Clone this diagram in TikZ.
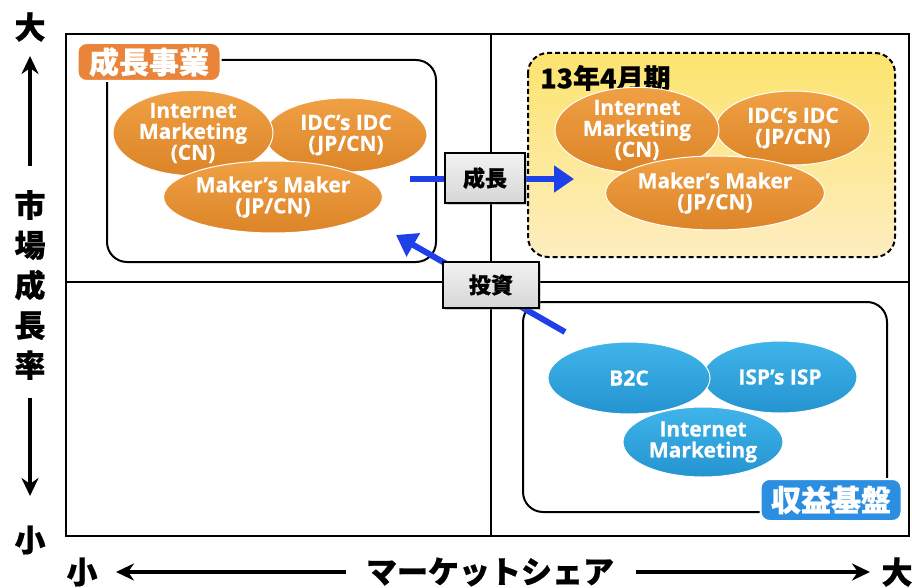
\documentclass[tikz,border=0pt]{standalone}
\usepackage{fontspec}
\setmainfont{Open Sans}
\newfontfamily\jp{Noto Sans CJK JP}[BoldFeatures={FakeBold=0.6}]
\newfontfamily\lat{Open Sans}[BoldFeatures={FakeBold=0.5}]
\usetikzlibrary{shapes.geometric,arrows.meta,shadows}
\definecolor{orgA}{HTML}{F0A044}
\definecolor{orgB}{HTML}{DC8428}
\definecolor{bluA}{HTML}{40B4EA}
\definecolor{bluB}{HTML}{2494D0}
\definecolor{arrB}{HTML}{1E40E8}
\definecolor{yelA}{HTML}{FCE46E}
\definecolor{yelB}{HTML}{FDEDC0}
\definecolor{lblO}{HTML}{E9843A}
\definecolor{lblB}{HTML}{2C8EE0}
\definecolor{grayA}{HTML}{F2F2F2}
\definecolor{grayB}{HTML}{D6D6D6}
\tikzset{
  ell/.style={ellipse, draw=white, line width=1pt, text=white, align=center, inner sep=0pt,
    font=\lat\bfseries\fontsize{21}{21}\selectfont},
  oell/.style={ell, top color=orgA, bottom color=orgB},
  bell/.style={ell, top color=bluA, bottom color=bluB},
  zone/.style={draw=black, line width=2pt, rounded corners=20pt},
  tag/.style={rounded corners=9pt, draw=white, line width=2pt, text=white, inner sep=3pt,
    font=\jp\bfseries\fontsize{30}{30}\selectfont},
  gbox/.style={draw=black, line width=1.5pt, top color=grayA, bottom color=grayB,
    drop shadow={opacity=0.35, shadow xshift=2pt, shadow yshift=-2pt},
    font=\jp\bfseries\fontsize{22}{22}\selectfont, inner sep=0pt},
  axis/.style={font=\jp\bfseries\fontsize{31}{31}\selectfont, inner sep=0pt},
  axarr/.style={line width=4pt, -{Stealth[length=18pt,width=17pt]}},
  barr/.style={arrB, line width=6pt, -{Triangle[length=20pt,width=26pt]}},
}
\begin{document}
\begin{tikzpicture}[x=1pt,y=-1pt]
\useasboundingbox (0,0) rectangle (912,588);
\fill[white] (0,0) rectangle (912,588);
% main frame
\draw[line width=2pt] (66,34) rectangle (909,536);
\draw[line width=2pt] (491,34) -- (491,536);
\draw[line width=2pt] (66,282) -- (909,282);

% top-left zone
\draw[zone, fill=white] (107,60) rectangle (436,262);
\node[oell, minimum width=162pt, minimum height=74pt] (idcA) at (346,135) {IDC’s IDC\\(JP/CN)};
\node[oell, minimum width=160pt, minimum height=72pt] (imA) at (193,133) {Internet\\Marketing\\(CN)};
\node[oell, minimum width=170pt, minimum height=72pt] (mmA) at (273,197) {Maker’s Maker\\(JP/CN)};
\node[tag, fill=lblO, minimum width=143pt, minimum height=38pt] (growtag) at (149,62) {成長事業};

% top-right zone
\draw[zone, dashed, dash pattern=on 5pt off 3pt, top color=yelA, bottom color=yelB] (528,53) rectangle (895,257);
\node[anchor=west, font=\jp\bfseries\fontsize{27}{27}\selectfont, inner sep=0pt] (period) at (540,78) {13年4月期};
\node[oell, minimum width=154pt, minimum height=74pt] (idcB) at (793,128) {IDC’s IDC\\(JP/CN)};
\node[oell, minimum width=164pt, minimum height=74pt] (imB) at (637,130) {Internet\\Marketing\\(CN)};
\node[oell, minimum width=170pt, minimum height=74pt] (mmB) at (715,193) {Maker’s Maker\\(JP/CN)};

% bottom-right zone
\draw[zone, fill=white] (523,302) rectangle (887,512);
\node[bell, minimum width=154pt, minimum height=72pt] (isp) at (780,377) {ISP’s ISP};
\node[bell, minimum width=162pt, minimum height=72pt] (b2c) at (629,378) {B2C};
\node[bell, minimum width=160pt, minimum height=70pt] (imC) at (703,442) {Internet\\Marketing};
\node[tag, fill=lblB, minimum width=141pt, minimum height=42pt] (basetag) at (831,500) {収益基盤};

% blue arrows
\coordinate (gs) at (410,179);
\coordinate (ge) at (574,179);
\draw[barr] (gs) -- (ge);
\coordinate (is) at (565,332);
\coordinate (ie) at (396,235);
\draw[barr] (is) -- (ie);
\node[gbox, minimum width=80pt, minimum height=50pt] (grow) at (485,178) {成長};
\node[gbox, minimum width=96pt, minimum height=46pt] (invest) at (491,285) {投資};

% vertical axis
\node[axis] (vbig) at (30,27) {大};
\node[axis, align=center, font=\jp\bfseries\fontsize{31}{40}\selectfont] (vlab) at (30,285) {市\\場\\成\\長\\率};
\node[axis] (vsmall) at (30,540) {小};
\coordinate (vup) at (30,166);
\coordinate (vdn) at (30,398);
\draw[axarr] (vup) -- (vbig.south |- 0,56);
\draw[axarr] (vdn) -- (vsmall.north |- 0,496);

% horizontal axis
\node[axis] (hsmall) at (82,572) {小};
\node[axis] (hlab) at (490,572) {マーケットシェア};
\node[axis] (hbig) at (897,572) {大};
\coordinate (hl) at (346,572);
\coordinate (hr) at (636,572);
\draw[axarr] (hl) -- (hsmall.east -| 116,0);
\draw[axarr] (hr) -- (hbig.west -| 870,0);
\end{tikzpicture}
\end{document}
